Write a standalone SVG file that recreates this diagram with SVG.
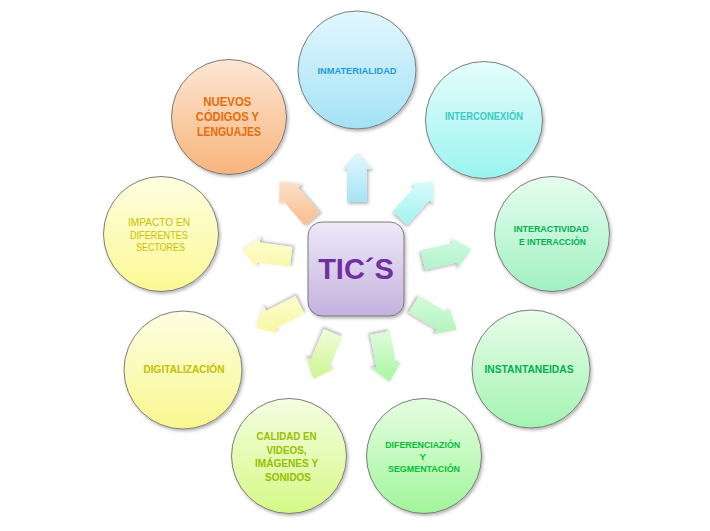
<svg xmlns="http://www.w3.org/2000/svg" width="710" height="531" viewBox="0 0 710 531">
<defs>
<filter id="sh" x="-20%" y="-20%" width="140%" height="140%">
<feDropShadow dx="1.5" dy="2" stdDeviation="1.5" flood-color="#000" flood-opacity="0.28"/>
</filter>
<linearGradient id="gOr" x1="0" y1="0" x2="0" y2="1"><stop offset="0" stop-color="#fde6d4"/><stop offset="1" stop-color="#f9b57c"/></linearGradient>
<linearGradient id="gBl" x1="0" y1="0" x2="0" y2="1"><stop offset="0" stop-color="#e2f7fd"/><stop offset="1" stop-color="#a3e2f7"/></linearGradient>
<linearGradient id="gCy" x1="0" y1="0" x2="0" y2="1"><stop offset="0" stop-color="#e5fdfd"/><stop offset="1" stop-color="#9bf4ef"/></linearGradient>
<linearGradient id="gTe" x1="0" y1="0" x2="0" y2="1"><stop offset="0" stop-color="#e6fdef"/><stop offset="1" stop-color="#a2f1c3"/></linearGradient>
<linearGradient id="gGr" x1="0" y1="0" x2="0" y2="1"><stop offset="0" stop-color="#e8fdea"/><stop offset="1" stop-color="#a4f4b2"/></linearGradient>
<linearGradient id="gGr2" x1="0" y1="0" x2="0" y2="1"><stop offset="0" stop-color="#e6fde2"/><stop offset="1" stop-color="#a2f59c"/></linearGradient>
<linearGradient id="gLi" x1="0" y1="0" x2="0" y2="1"><stop offset="0" stop-color="#f5fde2"/><stop offset="1" stop-color="#d5f986"/></linearGradient>
<linearGradient id="gYe" x1="0" y1="0" x2="0" y2="1"><stop offset="0" stop-color="#fefee4"/><stop offset="1" stop-color="#f8f78e"/></linearGradient>
<linearGradient id="gYe2" x1="0" y1="0" x2="0" y2="1"><stop offset="0" stop-color="#fffee2"/><stop offset="1" stop-color="#fbf994"/></linearGradient>
<linearGradient id="gPu" x1="0" y1="0" x2="0" y2="1"><stop offset="0" stop-color="#eee9f8"/><stop offset="1" stop-color="#c4b2df"/></linearGradient>

<linearGradient id="a1" gradientUnits="userSpaceOnUse" x1="0" y1="-50" x2="0" y2="0"><stop offset="0" stop-color="#e4f7fd"/><stop offset="1" stop-color="#a7e3f6"/></linearGradient>
<linearGradient id="a2" gradientUnits="userSpaceOnUse" x1="0" y1="-50" x2="0" y2="0" gradientTransform="rotate(41 0 -25)"><stop offset="0" stop-color="#fde6d4"/><stop offset="1" stop-color="#fbbd8b"/></linearGradient>
<linearGradient id="a3" gradientUnits="userSpaceOnUse" x1="0" y1="-50" x2="0" y2="0" gradientTransform="rotate(-42 0 -25)"><stop offset="0" stop-color="#e2fcfc"/><stop offset="1" stop-color="#9ff3ee"/></linearGradient>
<linearGradient id="a4" gradientUnits="userSpaceOnUse" x1="0" y1="-50" x2="0" y2="0" gradientTransform="rotate(82 0 -25)"><stop offset="0" stop-color="#fefedc"/><stop offset="1" stop-color="#f8f6a0"/></linearGradient>
<linearGradient id="a5" gradientUnits="userSpaceOnUse" x1="0" y1="-50" x2="0" y2="0" gradientTransform="rotate(-77 0 -25)"><stop offset="0" stop-color="#d8fbe7"/><stop offset="1" stop-color="#a6f2c5"/></linearGradient>
<linearGradient id="a6" gradientUnits="userSpaceOnUse" x1="0" y1="-50" x2="0" y2="0" gradientTransform="rotate(117 0 -25)"><stop offset="0" stop-color="#fdfdd4"/><stop offset="1" stop-color="#f6f69a"/></linearGradient>
<linearGradient id="a7" gradientUnits="userSpaceOnUse" x1="0" y1="-50" x2="0" y2="0" gradientTransform="rotate(-121 0 -25)"><stop offset="0" stop-color="#dbfbe0"/><stop offset="1" stop-color="#a8f3b5"/></linearGradient>
<linearGradient id="a8" gradientUnits="userSpaceOnUse" x1="0" y1="-50" x2="0" y2="0" gradientTransform="rotate(157 0 -25)"><stop offset="0" stop-color="#f1fcd8"/><stop offset="1" stop-color="#c9f58c"/></linearGradient>
<linearGradient id="a9" gradientUnits="userSpaceOnUse" x1="0" y1="-50" x2="0" y2="0" gradientTransform="rotate(-169 0 -25)"><stop offset="0" stop-color="#defbda"/><stop offset="1" stop-color="#a8f6a1"/></linearGradient>
<path id="arr" d="M-10,0 V-33 H-15 L0,-50 L15,-33 H10 V0 Z"/>
</defs>
<style>
.c{stroke:#6f6f6f;stroke-width:0.9;filter:url(#sh)}
.t{font-family:"Liberation Sans",Arial,sans-serif;font-weight:bold;text-anchor:middle}
.n{font-family:"Liberation Sans",Arial,sans-serif;font-weight:normal;text-anchor:middle}
.ar{filter:url(#sh)}
</style>
<rect width="710" height="531" fill="#ffffff"/>

<g id="connectors">
<use href="#arr" class="ar" fill="url(#a1)" transform="translate(357,202)"/>
<use href="#arr" class="ar" fill="url(#a2)" transform="translate(312,219) rotate(-41)"/>
<use href="#arr" class="ar" fill="url(#a3)" transform="translate(400,218) rotate(42)"/>
<use href="#arr" class="ar" fill="url(#a4)" transform="translate(291,257) rotate(-82)"/>
<use href="#arr" class="ar" fill="url(#a5)" transform="translate(423,260) rotate(77)"/>
<use href="#arr" class="ar" fill="url(#a6)" transform="translate(300,305) rotate(-117)"/>
<use href="#arr" class="ar" fill="url(#a7)" transform="translate(414,304) rotate(121)"/>
<use href="#arr" class="ar" fill="url(#a8)" transform="translate(333,333) rotate(-157)"/>
<use href="#arr" class="ar" fill="url(#a9)" transform="translate(380,333) rotate(169)"/>
</g>

<g id="center">
<rect x="308" y="222" width="96" height="94" rx="14" fill="url(#gPu)" stroke="#6f6f6f" stroke-width="0.9" filter="url(#sh)"/>
<text class="t" x="356" y="279" font-size="29" fill="#7030a0">TIC´S</text>
</g>

<g id="n-inmaterialidad">
<circle class="c" cx="357" cy="70" r="59" fill="url(#gBl)"/>
<text class="t" x="357" y="74" font-size="9.5" fill="#1b9ae4" textLength="79" lengthAdjust="spacingAndGlyphs">INMATERIALIDAD</text>
</g>
<g id="n-nuevos">
<circle class="c" cx="229" cy="117" r="57.5" fill="url(#gOr)"/>
<text class="t" font-size="12" fill="#e46c0a">
<tspan x="229" y="106" textLength="48" lengthAdjust="spacingAndGlyphs">NUEVOS</tspan>
<tspan x="229" y="121" textLength="63" lengthAdjust="spacingAndGlyphs">CÓDIGOS Y</tspan>
<tspan x="229" y="135.5" textLength="64" lengthAdjust="spacingAndGlyphs">LENGUAJES</tspan>
</text>
</g>
<g id="n-interconexion">
<circle class="c" cx="484" cy="120" r="58.5" fill="url(#gCy)"/>
<text class="t" x="484" y="120" font-size="10" fill="#3cc9c4" textLength="78" lengthAdjust="spacingAndGlyphs">INTERCONEXIÓN</text>
</g>
<g id="n-interactividad">
<circle class="c" cx="552" cy="234" r="57.5" fill="url(#gTe)"/>
<text class="t" font-size="9.5" fill="#00b050">
<tspan x="552.5" y="232" textLength="75" lengthAdjust="spacingAndGlyphs">INTERACTIVIDAD</tspan>
<tspan x="552.5" y="245" textLength="67" lengthAdjust="spacingAndGlyphs">E INTERACCIÓN</tspan>
</text>
</g>
<g id="n-instantaneidas">
<circle class="c" cx="531" cy="369" r="59" fill="url(#gGr)"/>
<text class="t" x="529" y="372.5" font-size="11" fill="#00b050" textLength="89" lengthAdjust="spacingAndGlyphs">INSTANTANEIDAS</text>
</g>
<g id="n-diferenciacion">
<circle class="c" cx="424" cy="456" r="57.5" fill="url(#gGr2)"/>
<text class="t" font-size="9.5" fill="#00c036">
<tspan x="424" y="448" textLength="75" lengthAdjust="spacingAndGlyphs">DIFERENCIAZIÓN</tspan>
<tspan x="424" y="460">Y</tspan>
<tspan x="424" y="471.5" textLength="72" lengthAdjust="spacingAndGlyphs">SEGMENTACIÓN</tspan>
</text>
</g>
<g id="n-calidad">
<circle class="c" cx="289" cy="456" r="57.5" fill="url(#gLi)"/>
<text class="t" font-size="11" fill="#96c000">
<tspan x="288" y="440" textLength="60" lengthAdjust="spacingAndGlyphs">CALIDAD EN</tspan>
<tspan x="288" y="453.5" textLength="40" lengthAdjust="spacingAndGlyphs">VIDEOS,</tspan>
<tspan x="288" y="467" textLength="63" lengthAdjust="spacingAndGlyphs">IMÁGENES Y</tspan>
<tspan x="288" y="480.5" textLength="46" lengthAdjust="spacingAndGlyphs">SONIDOS</tspan>
</text>
</g>
<g id="n-digitalizacion">
<circle class="c" cx="183" cy="370" r="59" fill="url(#gYe)"/>
<text class="t" x="184" y="372.5" font-size="11" fill="#c4c000" textLength="81" lengthAdjust="spacingAndGlyphs">DIGITALIZACIÓN</text>
</g>
<g id="n-impacto">
<circle class="c" cx="161" cy="234" r="57.5" fill="url(#gYe2)"/>
<text class="n" font-size="11" fill="#c8c000">
<tspan x="160.5" y="226" textLength="62" lengthAdjust="spacingAndGlyphs">IMPACTO EN</tspan>
<tspan x="160.5" y="238.5" textLength="58" lengthAdjust="spacingAndGlyphs">DIFERENTES</tspan>
<tspan x="160.5" y="251" textLength="49" lengthAdjust="spacingAndGlyphs">SECTORES</tspan>
</text>
</g>
</svg>
